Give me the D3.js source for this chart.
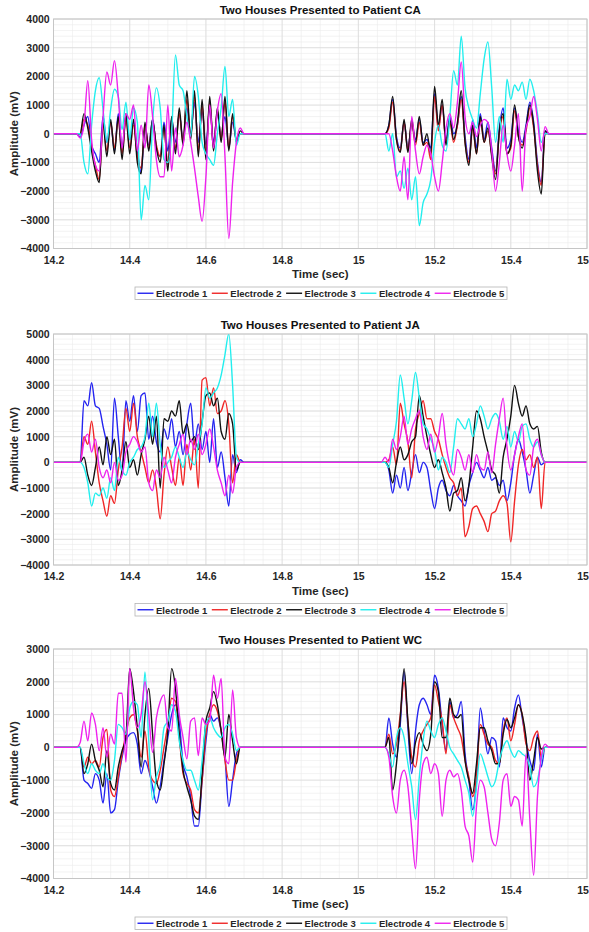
<!DOCTYPE html>
<html><head><meta charset="utf-8">
<script src="https://cdn.jsdelivr.net/npm/d3@7"></script>
<style>
html,body{margin:0;padding:0;background:#fff;}
svg{display:block;font-family:"Liberation Sans",Arial,Helvetica,sans-serif;}
</style></head><body>
<svg id="fig" width="589" height="932"></svg>
<script>
// ---------------- data ----------------
const electrodeNames = ["Electrode 1", "Electrode 2", "Electrode 3", "Electrode 4", "Electrode 5"];
const electrodeColors = ["#2424f0", "#f02626", "#111111", "#22eeee", "#ee22ee"];

const xTicks = [14.2, 14.4, 14.6, 14.8, 15, 15.2, 15.4, 15.6];
const xTickLabels = ["14.2", "14.4", "14.6", "14.8", "15", "15.2", "15.4", "15.6"];
const caYTicks = [-4000, -3000, -2000, -1000, 0, 1000, 2000, 3000, 4000];
const jaYTicks = [-4000, -3000, -2000, -1000, 0, 1000, 2000, 3000, 4000, 5000];
const wcYTicks = [-4000, -3000, -2000, -1000, 0, 1000, 2000, 3000];

// samples every 10 ms; burst A covers 14.27-14.69 s, burst B 15.07-15.49 s
const sampleStep = 0.01;
const burstStartA = 14.27;
const burstStartB = 15.07;

// Patient CA (mV)
const caE1a = [-100,300,600,-400,-700,-1000,600,-300,400,-600,700,-500,600,-200,400,-600,-1350,200,-400,500,-500,-800,400,-600,500,-300,700,-200,900,0,1100,-300,800,-400,900,-300,700,-100,600,-500,400,-200,0];
const caE2a = [0,500,300,-500,-1100,-1600,300,-600,400,-500,500,-700,500,-500,300,-800,-1200,300,-500,400,-400,-800,200,-1100,400,-500,700,-300,1200,-100,1300,-600,1000,-700,1100,-500,800,-200,1100,-500,600,-200,0];
const caE3a = [0,700,200,-600,-1300,-1700,400,-800,500,-700,600,-900,700,-700,500,-1000,-1400,400,-600,500,-500,-1000,300,-1300,600,-700,900,-400,1500,-200,1500,-800,1200,-900,1300,-600,900,-300,1300,-600,700,-300,100];
const caE4a = [0,-1000,-1400,300,1500,1950,850,-300,850,1550,1300,150,1100,-200,900,400,-3000,-1800,-2300,400,1600,900,-900,-1000,0,2750,1700,1500,600,-100,2000,1300,-300,-700,-900,-1100,0,900,2350,600,1200,-400,0];
const caE5a = [-150,300,1850,-200,-1100,-1300,600,2150,1700,2550,1300,-500,700,500,1000,-600,300,-500,1700,600,-900,-1500,-1500,1000,-1300,200,-800,-400,400,-300,-1200,-2200,-3050,-1500,1000,-500,800,1400,-800,-3650,-1700,-300,200];
const caE1b = [0,300,1200,-100,-500,400,-500,300,-200,500,-300,-200,-500,1400,200,1000,-200,600,0,300,1300,-100,-900,500,-500,700,-200,400,-500,-1300,200,900,-500,-200,900,100,-300,300,1100,400,-1000,-1700,100];
const caE2b = [0,200,1100,-200,-600,400,-600,400,-400,400,-400,-300,-900,1300,100,1000,-300,400,-300,300,1200,-300,-1000,200,-700,500,-300,100,-700,-1400,0,600,-700,-500,800,-100,-400,100,900,200,-1100,-1800,0];
const caE3b = [0,300,1300,-200,-650,500,-650,500,-300,600,-400,0,-700,1650,300,1200,-400,500,-200,400,1500,-300,-1100,300,-700,600,-300,200,-800,-1600,100,700,-700,-400,1000,-100,-500,200,1000,300,-1300,-2100,100];
const caE4b = [0,-600,0,-1500,-1300,-1900,-1200,-2300,-1500,-3200,-2400,-2100,-1600,-300,300,-400,-600,600,2200,1700,3400,1600,900,500,200,1400,2600,3200,1600,-300,600,-300,1900,1200,1700,1500,1800,1200,1900,1500,700,-300,0];
const caE5b = [0,0,-600,-1500,-2000,-800,-2300,600,-600,-1400,-800,-400,-700,-1500,-2000,-1000,200,700,200,1100,2500,600,0,400,-100,300,500,400,-600,-2000,-1000,300,-700,-1300,-400,700,-2000,200,600,1300,500,-600,250];

// Patient JA (mV)
const jaE1a = [0,2400,2200,3100,2200,2100,1400,700,-300,2500,1000,-400,2400,1600,2600,1200,2600,2700,900,1800,800,400,1300,900,1700,600,1200,300,1500,2300,700,1500,500,1200,0,1700,-200,400,-600,-1700,300,-400,100];
const jaE2a = [0,1000,700,1600,400,-800,-1500,-2100,-1300,-1600,-300,600,2100,1200,2300,1000,400,-200,-800,-300,-1000,-2200,-500,600,-200,-900,200,-900,700,-300,900,-1000,3200,3300,2200,2900,1900,2000,2400,1500,-800,300,0];
const jaE3a = [0,200,-500,-900,-200,600,-100,1000,300,900,-900,-300,800,-200,100,-500,300,900,1800,700,1800,-1000,1700,1600,2000,1800,2400,1100,1500,800,1000,500,1600,2600,2700,2200,2500,1200,900,1900,1500,-300,0];
const jaE4a = [0,-200,-800,-1700,-1200,-1300,-1000,-1400,-600,-1100,200,-300,-500,0,200,500,600,1000,2300,1000,2300,700,-200,0,200,600,200,-200,400,100,-100,700,1500,2900,2500,2700,2900,3400,4200,5000,3000,200,0];
const jaE5a = [0,800,1100,400,900,-200,-600,-300,-800,0,-700,-500,400,700,1000,800,400,600,-800,-1100,-300,-600,200,-300,-800,200,700,1100,300,900,500,1100,300,700,1300,600,-300,-800,-1300,-500,-1200,-200,0];
const jaE1b = [0,-300,-1200,-500,-1000,-200,-1100,-400,300,-400,0,-200,-1100,-1800,-1000,-700,-1100,-1300,-900,-1300,-1500,-1700,-900,-400,0,-300,-600,-200,-700,-600,-900,-700,-1500,-800,300,900,400,-300,-1200,-500,200,-100,0];
const jaE2b = [0,100,600,-100,2300,1500,800,-600,1300,1900,2400,1700,1700,1200,900,300,-200,-600,-800,-1300,-1000,-2900,-2500,-1800,-1700,-2000,-2300,-2700,-2000,-1900,-1500,-1300,-1600,-3100,-1500,-100,500,100,300,-200,200,-1800,0];
const jaE3b = [0,-200,-800,0,600,100,300,800,1000,2600,1800,1000,300,-200,100,-400,-1000,-1900,-1200,-1100,-600,-1500,-900,600,2000,1700,1000,400,-300,-500,-1200,200,900,1800,3000,2300,1800,2200,1500,1300,1400,400,0];
const jaE4b = [0,-200,700,1600,3400,2500,1500,2400,3500,2500,1500,1300,900,500,-300,200,0,-400,600,1700,1500,1300,1700,1000,1500,2200,1800,1300,1700,1900,1600,900,1400,600,1200,800,1400,1500,900,600,800,300,0];
const jaE5b = [200,0,900,500,1000,1800,700,1300,1700,2000,1000,500,1100,400,1000,1900,700,-100,-500,500,200,-300,300,-400,300,-200,-300,400,-400,700,1700,2500,600,-300,300,1000,1500,-300,-500,600,900,300,0];

// Patient WC (mV)
const wcE1a = [0,-1000,-1100,-1250,-800,-1000,-1700,-800,-2000,-1900,-1000,-300,200,400,450,100,-800,-400,-700,-1200,-1700,-1200,-400,300,1000,1300,800,-500,-900,-1500,-2400,-2400,-1000,200,1000,800,900,500,-300,-1800,-1000,-200,0];
const wcE2a = [0,-600,-300,-500,-400,-600,300,550,-1300,-1500,-900,-200,400,900,1000,500,-300,500,-600,-1000,-1100,-700,0,700,1500,1400,300,-800,-1100,-1300,-1900,-2000,-1000,400,1000,1300,1100,500,-400,-1000,-1000,-400,0];
const wcE3a = [0,-800,-500,100,-400,-700,-1200,-100,-1100,-1300,-600,-100,300,2400,1700,600,-600,1000,1800,400,-1000,-1300,-500,500,2400,1800,400,-700,-1200,-1600,-2100,-2200,-800,800,1200,1700,1300,500,-300,1000,200,-500,0];
const wcE4a = [0,-500,-800,-500,-700,-800,-500,-900,-1000,-400,700,600,400,1200,1400,1300,300,2300,200,-1600,-900,-500,600,800,1300,1100,200,-400,-700,-700,-1000,-1300,-400,700,900,600,400,300,600,700,400,-100,0];
const wcE5a = [150,800,200,1050,700,-100,600,-300,400,100,1650,1650,-450,2400,1200,600,1000,2000,1000,-150,900,1400,1600,600,500,2100,1000,300,-350,800,900,-250,900,700,800,2200,1500,2100,-300,-500,1750,300,0];
const wcE1b = [0,900,100,-300,700,2300,600,-800,500,1300,1500,1300,1000,2200,1800,700,-100,1400,900,1000,1400,-200,-1000,-1900,-1000,1200,500,-200,300,200,-600,900,600,500,1200,1600,900,200,-400,-700,400,-600,0];
const wcE2b = [0,400,-200,100,1000,2000,800,-300,-600,200,500,700,900,1900,1400,800,-200,1300,900,600,300,-400,-900,-1500,-900,700,400,100,0,-400,-500,500,900,200,700,1300,1000,100,-100,300,500,-300,0];
const wcE3b = [0,300,-1300,-500,900,2400,800,-500,150,450,100,-100,400,2000,1700,300,300,1500,1000,900,1000,-400,-1000,-1400,-500,600,600,200,-100,-500,-500,400,850,600,900,1300,1000,300,-1000,-400,300,-50,0];
const wcE4b = [0,-200,-600,300,600,300,-500,-1200,-2200,-900,200,800,500,300,700,900,500,0,-200,-400,-600,-1000,-1400,-2100,-1200,-200,-500,-900,-1200,-1000,-400,0,200,-100,-300,-100,-200,-300,-600,-1200,-1000,-400,0];
const wcE5b = [0,-300,-1500,-2000,-1000,-700,-1200,-2500,-3700,-1600,-500,-300,-800,-500,-800,-2100,-1000,-700,-900,-800,-1300,-2400,-2700,-3500,-1800,-1000,-1200,-2000,-2800,-3000,-2300,-1000,-800,-1800,-1500,-1600,-2400,-200,-2200,-3900,-1500,-300,100];

const panels = [
  { title: "Two Houses Presented to Patient CA", yDomain: [-4000, 4000], yTicks: caYTicks,
    series: [[caE1a, caE1b], [caE2a, caE2b], [caE3a, caE3b], [caE4a, caE4b], [caE5a, caE5b]] },
  { title: "Two Houses Presented to Patient JA", yDomain: [-4000, 5000], yTicks: jaYTicks,
    series: [[jaE1a, jaE1b], [jaE2a, jaE2b], [jaE3a, jaE3b], [jaE4a, jaE4b], [jaE5a, jaE5b]] },
  { title: "Two Houses Presented to Patient WC", yDomain: [-4000, 3000], yTicks: wcYTicks,
    series: [[wcE1a, wcE1b], [wcE2a, wcE2b], [wcE3a, wcE3b], [wcE4a, wcE4b], [wcE5a, wcE5b]] }
];

// ---------------- layout ----------------
const plotLeft = 53.5, plotRight = 587;
const plotTops = [19, 334, 649];
const plotBottoms = [248.5, 565, 878.5];
const textColor = "#262626";

const svg = d3.select("#fig");
svg.append("rect").attr("width", 589).attr("height", 932).attr("fill", "#fff");

const x = d3.scaleLinear().domain([14.2, 15.6]).range([plotLeft, plotRight]);

// one trace: zero baseline, burst A, zero gap, burst B, zero baseline
function buildTrace(a, b) {
  const pts = [{ t: 14.2, v: 0 }, { t: burstStartA - sampleStep, v: 0 }];
  a.forEach((v, i) => pts.push({ t: burstStartA + i * sampleStep, v }));
  pts.push({ t: burstStartA + a.length * sampleStep, v: 0 });
  pts.push({ t: burstStartB - sampleStep, v: 0 });
  b.forEach((v, i) => pts.push({ t: burstStartB + i * sampleStep, v }));
  pts.push({ t: burstStartB + b.length * sampleStep, v: 0 }, { t: 15.6, v: 0 });
  return pts;
}

panels.forEach((p, pi) => {
  const top = plotTops[pi], bottom = plotBottoms[pi];
  const y = d3.scaleLinear().domain(p.yDomain).range([bottom, top]);
  const g = svg.append("g");

  g.append("rect").attr("x", plotLeft).attr("y", top)
    .attr("width", plotRight - plotLeft).attr("height", bottom - top).attr("fill", "#fff");

  // minor grid
  const xMinor = d3.range(14.2, 15.6001, 0.05);
  const yMinor = d3.range(p.yDomain[0], p.yDomain[1] + 1, 200);
  g.append("g").selectAll("line").data(xMinor).join("line")
    .attr("x1", d => x(d)).attr("x2", d => x(d)).attr("y1", top).attr("y2", bottom)
    .attr("stroke", "#ebebeb").attr("stroke-width", 0.6);
  g.append("g").selectAll("line").data(yMinor).join("line")
    .attr("x1", plotLeft).attr("x2", plotRight).attr("y1", d => y(d)).attr("y2", d => y(d))
    .attr("stroke", "#ebebeb").attr("stroke-width", 0.6);

  // major grid
  g.append("g").selectAll("line").data(xTicks).join("line")
    .attr("x1", d => x(d)).attr("x2", d => x(d)).attr("y1", top).attr("y2", bottom)
    .attr("stroke", "#dadada").attr("stroke-width", 0.8);
  g.append("g").selectAll("line").data(p.yTicks).join("line")
    .attr("x1", plotLeft).attr("x2", plotRight).attr("y1", d => y(d)).attr("y2", d => y(d))
    .attr("stroke", "#dadada").attr("stroke-width", 0.8);

  // traces
  const clipId = "clip" + pi;
  svg.append("clipPath").attr("id", clipId).append("rect")
    .attr("x", plotLeft).attr("y", top).attr("width", plotRight - plotLeft).attr("height", bottom - top);
  const line = d3.line().x(d => x(d.t)).y(d => y(d.v)).curve(d3.curveMonotoneX);
  const traces = g.append("g").attr("clip-path", `url(#${clipId})`);
  p.series.forEach((s, si) => {
    traces.append("path").datum(buildTrace(s[0], s[1]))
      .attr("d", line).attr("fill", "none")
      .attr("stroke", electrodeColors[si]).attr("stroke-width", 1.4)
      .attr("stroke-linejoin", "round");
  });

  // box
  g.append("rect").attr("x", plotLeft).attr("y", top)
    .attr("width", plotRight - plotLeft).attr("height", bottom - top)
    .attr("fill", "none").attr("stroke", "#c4c4c4").attr("stroke-width", 0.9);

  // axes (labels only)
  const xAxis = g.append("g").attr("transform", `translate(0,${bottom})`)
    .call(d3.axisBottom(x).tickValues(xTicks).tickFormat((d, i) => xTickLabels[i]).tickSize(0).tickPadding(7.6));
  const yAxis = g.append("g").attr("transform", `translate(${plotLeft},0)`)
    .call(d3.axisLeft(y).tickValues(p.yTicks).tickFormat(d3.format("d")).tickSize(0).tickPadding(3.8));
  [xAxis, yAxis].forEach(a => {
    a.select(".domain").remove();
    a.selectAll("text").attr("font-size", 10.5).attr("font-weight", "bold")
      .attr("fill", textColor).attr("font-family", '"Liberation Sans",Arial,sans-serif');
  });

  // title
  g.append("text").attr("x", (plotLeft + plotRight) / 2).attr("y", top - 5)
    .attr("text-anchor", "middle").attr("font-size", 11.5).attr("font-weight", "bold")
    .attr("fill", "#111").text(p.title);

  // axis titles
  g.append("text").attr("x", (plotLeft + plotRight) / 2).attr("y", bottom + 29.5)
    .attr("text-anchor", "middle").attr("font-size", 11.5).attr("font-weight", "bold")
    .attr("fill", textColor).text("Time (sec)");
  g.append("text").attr("transform", `translate(17.5,${(top + bottom) / 2}) rotate(-90)`)
    .attr("text-anchor", "middle").attr("font-size", 11.5).attr("font-weight", "bold")
    .attr("fill", textColor).text("Amplitude (mV)");

  // legend
  const ly = bottom + 38.5;
  const lg = g.append("g");
  lg.append("rect").attr("x", 135).attr("y", ly).attr("width", 372).attr("height", 12.5)
    .attr("fill", "#fff").attr("stroke", "#b4b4b4").attr("stroke-width", 0.8);
  electrodeNames.forEach((name, i) => {
    const ox = 137.5 + i * 74.3;
    lg.append("line").attr("x1", ox).attr("x2", ox + 16).attr("y1", ly + 6.25).attr("y2", ly + 6.25)
      .attr("stroke", electrodeColors[i]).attr("stroke-width", 1.4);
    lg.append("text").attr("x", ox + 18.5).attr("y", ly + 10)
      .attr("font-size", 9.5).attr("font-weight", "bold").attr("fill", textColor).text(name);
  });
});
</script>
</body></html>
